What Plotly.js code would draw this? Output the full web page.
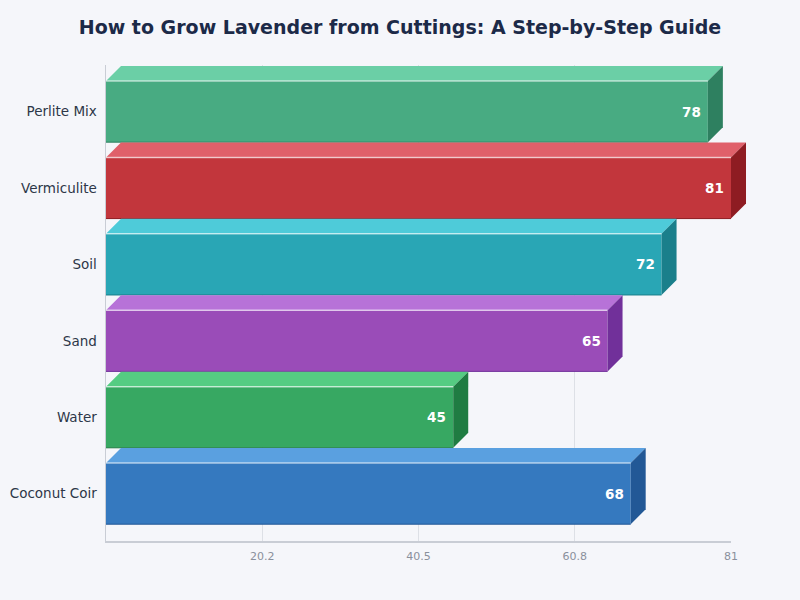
<!DOCTYPE html>
<html>
<head>
<meta charset="utf-8">
<script src="https://cdn.plot.ly/plotly-3.0.1.min.js"></script>
<style>
  html, body { margin: 0; padding: 0; background: #f5f6fa; }
  #grafico { width: 800px; height: 600px; }
</style>
</head>
<body>
<div id="grafico"></div>
<script>
// datos del grafico
const medios = ["Perlite Mix", "Vermiculite", "Soil", "Sand", "Water", "Coconut Coir"];
const exito = [78, 81, 72, 65, 45, 68];
const ticksX = [20.25, 40.5, 60.75, 81];
const ticksXTexto = ["20.2", "40.5", "60.8", "81"];

// colores (frente, cara superior, lateral)
const colFrente = ["#48ab82", "#c2363c", "#29a6b5", "#9a4cb8", "#37a862", "#3579bf"];
const colArriba = ["#6bcfa6", "#e0606a", "#4ecbd9", "#b772d8", "#55cc82", "#5aa0e0"];
const colLado   = ["#2e8060", "#8e1c22", "#1a7f8b", "#71309a", "#1f7c42", "#225896"];

const W = 800, H = 600;
const margen = { l: 106, r: 69, t: 65, b: 59 };
const xMax = 81;
const yRango = [5.62, -0.61];
const anchoBarra = 0.8;
const prof = 15; // profundidad 3D en px

const plotW = W - margen.l - margen.r;
const plotH = H - margen.t - margen.b;
const spanY = yRango[0] - yRango[1];

// de datos a fraccion del area (paper) para que las caras 3D no se recorten
const px = v => v / xMax;
const py = y => (yRango[0] - y) / spanY;
const dxP = prof / plotW;
const dyP = prof / plotH;

const idx = medios.map((m, i) => i);

const shapes = [];
const etiquetas = [];
exito.forEach(function (v, i) {
  const x0 = px(0), x1 = px(v);
  const yt = py(i - anchoBarra / 2);
  const yb = py(i + anchoBarra / 2);
  // cara superior
  shapes.push({
    type: "path", xref: "paper", yref: "paper", layer: "above",
    path: `M ${x0},${yt} L ${x1},${yt} L ${x1 + dxP},${yt + dyP} L ${x0 + dxP},${yt + dyP} Z`,
    fillcolor: colArriba[i], line: { width: 0 }
  });
  // cara lateral
  shapes.push({
    type: "path", xref: "paper", yref: "paper", layer: "above",
    path: `M ${x1},${yt} L ${x1 + dxP},${yt + dyP} L ${x1 + dxP},${yb + dyP} L ${x1},${yb} Z`,
    fillcolor: colLado[i], line: { width: 0 }
  });
  // brillo en el borde superior del frente
  shapes.push({
    type: "line", xref: "paper", yref: "paper", layer: "above",
    x0: x0, x1: x1, y0: yt, y1: yt,
    line: { color: "rgba(255,255,255,0.6)", width: 1.5 }
  });
  // borde inferior mas oscuro
  shapes.push({
    type: "line", xref: "paper", yref: "paper", layer: "above",
    x0: x0, x1: x1, y0: yb, y1: yb,
    line: { color: colLado[i], width: 1 }
  });
  etiquetas.push({
    x: v, y: i, xref: "x", yref: "y",
    text: "<b>" + v + "</b>",
    showarrow: false,
    xanchor: "right", yanchor: "middle",
    xshift: -5,
    font: { family: "DejaVu Sans", size: 13.5, color: "#ffffff" }
  });
});

Plotly.newPlot(
  "grafico",
  [{
    type: "bar",
    orientation: "h",
    x: exito,
    y: idx,
    width: anchoBarra,
    marker: { color: colFrente, line: { width: 0 } },
    hoverinfo: "x+y"
  }],
  {
    width: W,
    height: H,
    margin: margen,
    paper_bgcolor: "#f5f6fa",
    plot_bgcolor: "#f5f6fa",
    font: { family: "DejaVu Sans", color: "#2d3748" },
    showlegend: false,
    title: {
      text: "<b>How to Grow Lavender from Cuttings: A Step-by-Step Guide</b>",
      font: { family: "DejaVu Sans", size: 19, color: "#1c2a48" },
      x: 0.5, xanchor: "center",
      y: 0.955, yref: "container", yanchor: "middle"
    },
    xaxis: {
      range: [0, xMax],
      tickmode: "array",
      tickvals: ticksX,
      ticktext: ticksXTexto,
      showgrid: true,
      gridcolor: "#dde0e6",
      gridwidth: 1,
      zeroline: false,
      showline: true,
      linecolor: "#c9cdd5",
      linewidth: 1.5,
      ticks: "",
      ticklabelstandoff: 4,
      tickfont: { size: 11, color: "#8a909c" }
    },
    yaxis: {
      range: yRango,
      tickmode: "array",
      tickvals: idx,
      ticktext: medios,
      showgrid: false,
      zeroline: false,
      showline: true,
      linecolor: "#c9cdd5",
      linewidth: 1.5,
      ticks: "",
      ticklabelstandoff: 5,
      tickfont: { size: 13.5, color: "#2d3748" }
    },
    shapes: shapes,
    annotations: etiquetas
  },
  { staticPlot: true }
);
</script>
</body>
</html>
